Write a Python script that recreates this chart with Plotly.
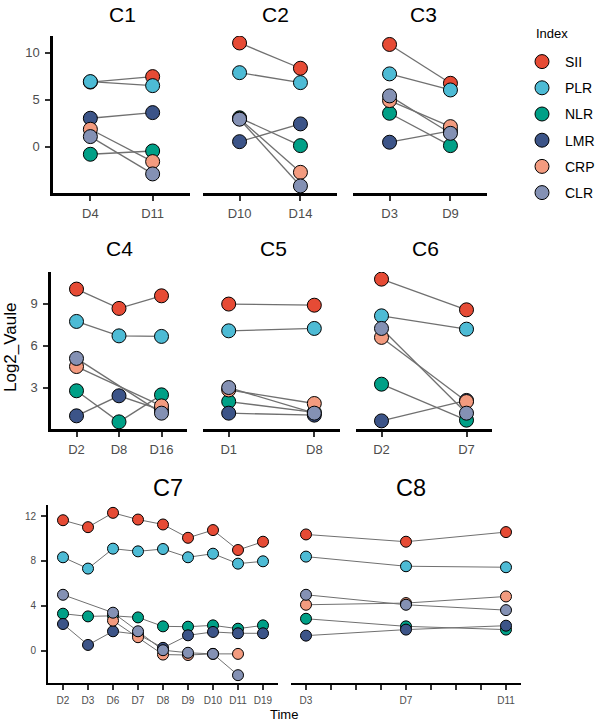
import plotly.graph_objects as go

# ---------------- data ----------------
INDICES = ["SII", "PLR", "NLR", "LMR", "CRP", "CLR"]
COLORS = ["#E64B35", "#4DBBD5", "#00A087", "#3C5488", "#F39B7F", "#8491B4"]

# Row 1
C1_slots = ["D4", "D11"]
C1_days = ["D4", "D11"]
C1_vals = {"SII": [6.9, 7.48], "PLR": [6.95, 6.52], "NLR": [-0.78, -0.43],
           "LMR": [3.05, 3.65], "CRP": [1.88, -1.56], "CLR": [1.1, -2.87]}

C2_slots = ["D10", "D14"]
C2_days = ["D10", "D14"]
C2_vals = {"SII": [11.06, 8.37], "PLR": [7.9, 6.84], "NLR": [3.1, 0.14],
           "LMR": [0.56, 2.45], "CRP": [3.0, -2.7], "CLR": [2.95, -4.15]}

C3_slots = ["D3", "D9"]
C3_days = ["D3", "D9"]
C3_vals = {"SII": [10.9, 6.77], "PLR": [7.77, 6.06], "NLR": [3.58, 0.14],
           "LMR": [0.5, 1.7], "CRP": [4.93, 2.16], "CLR": [5.43, 1.45]}

# Row 2
C4_slots = ["D2", "D8", "D16"]
C4_days = ["D2", "D8", "D16"]
C4_vals = {"SII": [10.05, 8.67, 9.57], "PLR": [7.74, 6.71, 6.67], "NLR": [2.79, 0.57, 2.5],
           "LMR": [1.0, 2.43, 1.4], "CRP": [4.52, None, 1.71], "CLR": [5.1, None, 1.19]}

C5_slots = ["D1", "", "D8"]
C5_days = ["D1", "D8"]
C5_vals = {"SII": [8.98, 8.9], "PLR": [7.07, 7.24], "NLR": [2.02, 1.25],
           "LMR": [1.19, 1.05], "CRP": [2.85, 1.88], "CLR": [3.02, 1.19]}

C6_slots = ["D2", "", "D7"]
C6_days = ["D2", "D7"]
C6_vals = {"SII": [10.76, 8.57], "PLR": [8.14, 7.19], "NLR": [3.26, 0.69],
           "LMR": [0.64, 2.1], "CRP": [6.6, 2.02], "CLR": [7.24, 1.19]}

# Row 3
C7_slots = ["D2", "D3", "D6", "D7", "D8", "D9", "D10", "D11", "D19"]
C7_days = ["D2", "D3", "D6", "D7", "D8", "D9", "D10", "D11", "D19"]
C7_vals = {"SII": [11.64, 11.02, 12.3, 11.7, 11.26, 10.07, 10.76, 8.98, 9.72],
           "PLR": [8.33, 7.32, 9.1, 8.86, 9.07, 8.33, 8.65, 7.76, 7.97],
           "NLR": [3.29, 3.05, 3.1, 2.96, 2.16, 2.13, 2.25, 1.95, 2.25],
           "LMR": [2.37, 0.5, 1.72, 1.45, 0.24, 1.36, 1.66, 1.54, 1.54],
           "CRP": [None, None, 2.67, 1.19, -0.36, -0.4, -0.3, -0.3, None],
           "CLR": [4.98, None, 3.38, 1.72, 0.03, -0.2, -0.3, -2.2, None]}

C8_slots = ["D3", "", "", "", "D7", "", "", "", "D11"]
C8_days = ["D3", "D7", "D11"]
C8_vals = {"SII": [10.37, 9.72, 10.58], "PLR": [8.39, 7.53, 7.44], "NLR": [2.84, 2.16, 1.87],
           "LMR": [1.33, 1.87, 2.22], "CRP": [4.09, 4.24, 4.83], "CLR": [4.98, 4.09, 3.61]}

Y_TITLE = "Log2_Vaule"
X_TITLE = "Time"
LEGEND_TITLE = "Index"

# ---------------- layout helpers ----------------
W, H = 600, 722
FONT = "Liberation Sans, Arial, sans-serif"


def xp(px):
    return px / W


def yp(py):
    return 1 - py / H


ROWS = [
    dict(ypx=(36, 193), yrange=[-4.9, 11.8], yticks=[0, 5, 10], msize=14, tfont=13,
         lw=2.5, title_y=14, title_size=21, lwidth=1.3),
    dict(ypx=(272, 429), yrange=[0.06, 11.27], yticks=[3, 6, 9], msize=14, tfont=13,
         lw=2.5, title_y=249, title_size=21, lwidth=1.3),
    dict(ypx=(505, 683), yrange=[-2.9, 13.0], yticks=[0, 4, 8, 12], msize=11, tfont=10,
         lw=2, title_y=488, title_size=23.5, lwidth=1.0),
]

PANELS = [
    dict(name="C1", row=0, slots=C1_slots, days=C1_days, vals=C1_vals, xpx=(53, 190), tx=123, all_ticks=False),
    dict(name="C2", row=0, slots=C2_slots, days=C2_days, vals=C2_vals, xpx=(203, 337), tx=275, all_ticks=False),
    dict(name="C3", row=0, slots=C3_slots, days=C3_days, vals=C3_vals, xpx=(353, 487), tx=423, all_ticks=False),
    dict(name="C4", row=1, slots=C4_slots, days=C4_days, vals=C4_vals, xpx=(51, 187), tx=119, all_ticks=False),
    dict(name="C5", row=1, slots=C5_slots, days=C5_days, vals=C5_vals, xpx=(203, 340), tx=273, all_ticks=False),
    dict(name="C6", row=1, slots=C6_slots, days=C6_days, vals=C6_vals, xpx=(356, 492), tx=425, all_ticks=False),
    dict(name="C7", row=2, slots=C7_slots, days=C7_days, vals=C7_vals, xpx=(48, 278), tx=168, all_ticks=False),
    dict(name="C8", row=2, slots=C8_slots, days=C8_days, vals=C8_vals, xpx=(291, 521), tx=411, all_ticks=True),
]

fig = go.Figure()
layout = {}
annotations = []

# lines first (below points)
for i, p in enumerate(PANELS, start=1):
    r = ROWS[p["row"]]
    ax = "" if i == 1 else str(i)
    for idx in INDICES:
        xs, ys = [], []
        for d, v in zip(p["days"], p["vals"][idx]):
            if v is not None:
                xs.append(p["slots"].index(d) + 1)
                ys.append(v)
        fig.add_trace(go.Scatter(x=xs, y=ys, mode="lines", xaxis="x" + ax, yaxis="y" + ax,
                                 line=dict(color="#707070", width=r["lwidth"]),
                                 showlegend=False, hoverinfo="skip"))

for i, p in enumerate(PANELS, start=1):
    r = ROWS[p["row"]]
    ax = "" if i == 1 else str(i)
    for idx, col in zip(INDICES, COLORS):
        xs, ys = [], []
        for d, v in zip(p["days"], p["vals"][idx]):
            if v is not None:
                xs.append(p["slots"].index(d) + 1)
                ys.append(v)
        fig.add_trace(go.Scatter(x=xs, y=ys, mode="markers", xaxis="x" + ax, yaxis="y" + ax,
                                 name=idx, legendgroup=idx, showlegend=(i == 1),
                                 marker=dict(color=col, size=r["msize"],
                                             line=dict(color="black", width=1))))

    n = len(p["slots"])
    if p["all_ticks"]:
        tv = list(range(1, n + 1))
        tt = p["slots"]
    else:
        tv = [k + 1 for k, s in enumerate(p["slots"]) if s]
        tt = [s for s in p["slots"] if s]
    first_in_row = (i == 1 or PANELS[i - 2]["row"] != p["row"])
    layout["xaxis" + ax] = dict(
        domain=[xp(p["xpx"][0]), xp(p["xpx"][1])], anchor="y" + ax,
        range=[0.4, n + 0.6], tickmode="array", tickvals=tv, ticktext=tt,
        showline=True, linecolor="black", linewidth=r["lw"], showgrid=False, zeroline=False,
        ticks="outside", ticklen=5, tickwidth=2, tickcolor="#333333",
        tickfont=dict(family=FONT, size=r["tfont"], color="#4D4D4D"),
        ticklabelstandoff=2, fixedrange=True)
    layout["yaxis" + ax] = dict(
        domain=[yp(r["ypx"][1]), yp(r["ypx"][0])], anchor="x" + ax,
        range=r["yrange"], tickmode="array", tickvals=r["yticks"] if first_in_row else [],
        showticklabels=first_in_row, showline=first_in_row, linecolor="black",
        linewidth=r["lw"], showgrid=False, zeroline=False,
        ticks="outside" if first_in_row else "", ticklen=5, tickwidth=2, tickcolor="#333333",
        tickfont=dict(family=FONT, size=r["tfont"], color="#4D4D4D"),
        ticklabelstandoff=3, fixedrange=True)

    annotations.append(dict(text=p["name"], x=xp(p["tx"]), y=yp(r["title_y"]), xref="paper", yref="paper",
                            xanchor="center", yanchor="middle", showarrow=False,
                            font=dict(family=FONT, size=r["title_size"], color="black")))

annotations.append(dict(text=Y_TITLE, x=xp(10), y=yp(347), xref="paper", yref="paper", textangle=-90,
                        xanchor="center", yanchor="middle", showarrow=False,
                        font=dict(family=FONT, size=17, color="black")))
annotations.append(dict(text=X_TITLE, x=xp(284), y=yp(714), xref="paper", yref="paper",
                        xanchor="center", yanchor="middle", showarrow=False,
                        font=dict(family=FONT, size=13, color="black")))
annotations.append(dict(text=LEGEND_TITLE, x=xp(534), y=yp(33), xref="paper", yref="paper",
                        xanchor="left", yanchor="middle", showarrow=False,
                        font=dict(family=FONT, size=13, color="black")))

fig.update_layout(
    width=W, height=H, margin=dict(l=0, r=0, t=0, b=0),
    plot_bgcolor="white", paper_bgcolor="white",
    annotations=annotations,
    legend=dict(font=dict(family=FONT, size=14, color="black"),
                x=1.0, y=yp(46), xanchor="right", yanchor="top",
                tracegroupgap=5, itemsizing="trace", itemwidth=36, bgcolor="rgba(0,0,0,0)"),
    **layout,
)

fig.write_html("out.html")
